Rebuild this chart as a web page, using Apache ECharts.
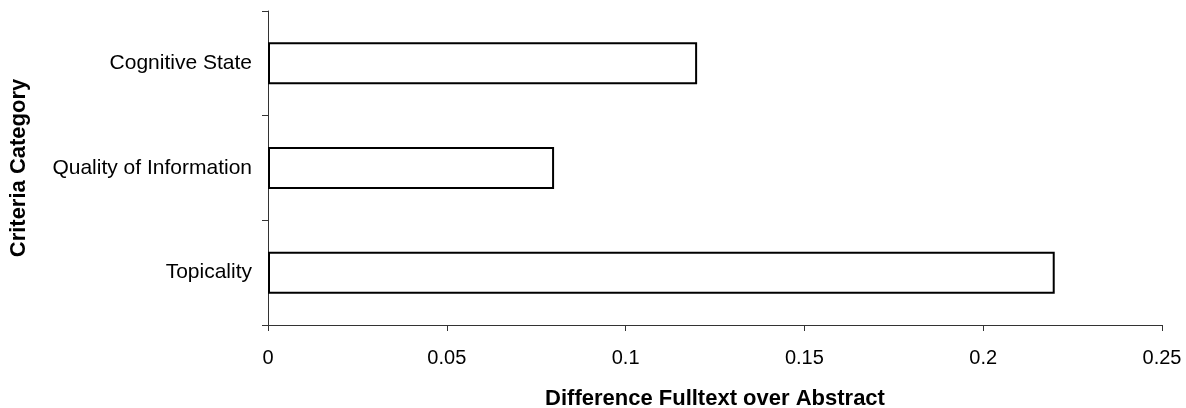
<!DOCTYPE html>
<html>
<head>
<meta charset="utf-8">
<script src="https://cdn.jsdelivr.net/npm/echarts@6/dist/echarts.min.js"></script>
<style>
  html, body { margin: 0; padding: 0; background: #fff; }
  #chart { width: 1186px; height: 408px; }
</style>
</head>
<body>
<div id="chart"></div>
<script>
// Criteria categories, listed bottom to top
const categories = ['Topicality', 'Quality of Information', 'Cognitive State'];
// Difference of full text over abstract for each category
const differences = [0.22, 0.08, 0.12];
// Value axis range
const xMin = 0;
const xMax = 0.25;
const xStep = 0.05;

const font = 'Liberation Sans, Arial, sans-serif';

const chart = echarts.init(document.getElementById('chart'));
chart.setOption({
  animation: false,
  backgroundColor: '#fff',
  grid: { left: 268, right: 24, top: 11, bottom: 83, containLabel: false, outerBoundsMode: 'none' },
  xAxis: {
    type: 'value',
    min: xMin,
    max: xMax,
    interval: xStep,
    name: 'Difference Fulltext over Abstract',
    nameLocation: 'middle',
    nameGap: 63,
    nameTextStyle: { fontFamily: font, fontWeight: 'bold', fontSize: 22, color: '#000' },
    axisLine: { show: true, lineStyle: { color: '#333', width: 1 } },
    axisTick: { show: true, length: 6, lineStyle: { color: '#333' } },
    axisLabel: { margin: 23, fontFamily: font, fontSize: 20, color: '#000' },
    splitLine: { show: false }
  },
  yAxis: {
    type: 'category',
    data: categories,
    name: 'Criteria Category',
    nameLocation: 'middle',
    nameGap: 238,
    nameRotate: 90,
    nameTextStyle: { fontFamily: font, fontWeight: 'bold', fontSize: 22, color: '#000' },
    axisLine: { show: true, lineStyle: { color: '#333', width: 1 } },
    axisTick: { show: true, length: 6, lineStyle: { color: '#333' } },
    axisLabel: { margin: 16, fontFamily: font, fontSize: 21, color: '#000' },
    splitLine: { show: false }
  },
  series: [{
    type: 'bar',
    data: differences,
    barWidth: 42,
    itemStyle: { color: '#fff', borderColor: '#000', borderWidth: 2 },
    label: { show: false }
  }]
});
</script>
</body>
</html>
